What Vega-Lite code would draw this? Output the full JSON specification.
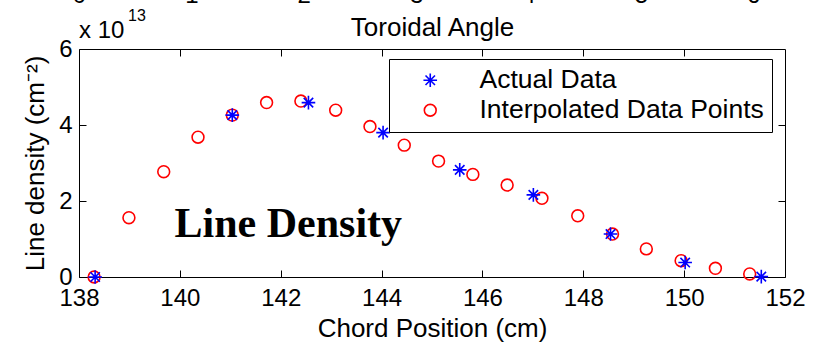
{
  "$schema": "https://vega.github.io/schema/vega-lite/v6.json",
  "autosize": {"type": "none"},
  "width": 706,
  "height": 228,
  "padding": {"left": 79, "top": 49, "right": 33, "bottom": 65},
  "background": "white",
  "data": {
    "values": [
      {"pos": 138.30, "density": 0.00, "series": "Interpolated Data Points"},
      {"pos": 138.99, "density": 1.56, "series": "Interpolated Data Points"},
      {"pos": 139.68, "density": 2.77, "series": "Interpolated Data Points"},
      {"pos": 140.36, "density": 3.68, "series": "Interpolated Data Points"},
      {"pos": 141.04, "density": 4.26, "series": "Interpolated Data Points"},
      {"pos": 141.72, "density": 4.59, "series": "Interpolated Data Points"},
      {"pos": 142.40, "density": 4.63, "series": "Interpolated Data Points"},
      {"pos": 143.09, "density": 4.39, "series": "Interpolated Data Points"},
      {"pos": 143.77, "density": 3.96, "series": "Interpolated Data Points"},
      {"pos": 144.45, "density": 3.47, "series": "Interpolated Data Points"},
      {"pos": 145.13, "density": 3.05, "series": "Interpolated Data Points"},
      {"pos": 145.81, "density": 2.70, "series": "Interpolated Data Points"},
      {"pos": 146.49, "density": 2.42, "series": "Interpolated Data Points"},
      {"pos": 147.18, "density": 2.07, "series": "Interpolated Data Points"},
      {"pos": 147.89, "density": 1.61, "series": "Interpolated Data Points"},
      {"pos": 148.58, "density": 1.13, "series": "Interpolated Data Points"},
      {"pos": 149.25, "density": 0.74, "series": "Interpolated Data Points"},
      {"pos": 149.94, "density": 0.43, "series": "Interpolated Data Points"},
      {"pos": 150.62, "density": 0.23, "series": "Interpolated Data Points"},
      {"pos": 151.30, "density": 0.08, "series": "Interpolated Data Points"},
      {"pos": 138.32, "density": 0.00, "series": "Actual Data"},
      {"pos": 141.04, "density": 4.26, "series": "Actual Data"},
      {"pos": 142.55, "density": 4.59, "series": "Actual Data"},
      {"pos": 144.03, "density": 3.80, "series": "Actual Data"},
      {"pos": 145.55, "density": 2.82, "series": "Actual Data"},
      {"pos": 147.01, "density": 2.16, "series": "Actual Data"},
      {"pos": 148.54, "density": 1.13, "series": "Actual Data"},
      {"pos": 150.02, "density": 0.38, "series": "Actual Data"},
      {"pos": 151.53, "density": 0.01, "series": "Actual Data"}
    ]
  },
  "layer": [
    {
      "layer": [
        {
          "mark": {"type": "point", "filled": false, "strokeWidth": 1.6, "size": 140, "opacity": 1},
          "encoding": {
            "x": {
              "field": "pos", "type": "quantitative",
              "scale": {"domain": [138, 152], "nice": false, "zero": false},
              "axis": {
                "orient": "bottom", "values": [138, 140, 142, 144, 146, 148, 150, 152],
                "title": "Chord Position (cm)", "tickSize": -7, "labelPadding": 16,
                "titlePadding": 5, "labelFlush": false, "domain": false
              }
            },
            "y": {
              "field": "density", "type": "quantitative",
              "scale": {"domain": [0, 6], "nice": false, "zero": false},
              "axis": {
                "orient": "left", "values": [0, 2, 4, 6],
                "title": "Line density (cm⁻²)", "tickSize": -7, "labelPadding": 14,
                "titlePadding": 10, "labelFlush": false, "domain": false
              }
            },
            "color": {
              "field": "series", "type": "nominal",
              "scale": {"domain": ["Actual Data", "Interpolated Data Points"], "range": ["#0000ff", "#ff0000"]},
              "legend": {"title": null}
            },
            "shape": {
              "field": "series", "type": "nominal",
              "scale": {
                "domain": ["Actual Data", "Interpolated Data Points"],
                "range": ["M-1.15,0H1.15M0,-1.15V1.15M-0.8,-0.8L0.8,0.8M-0.8,0.8L0.8,-0.8", "circle"]
              },
              "legend": {"title": null}
            }
          }
        },
        {
          "data": {"values": [{"note": "Line Density"}]},
          "mark": {"type": "text", "font": "Liberation Serif", "fontWeight": "bold", "fontSize": 42, "align": "center", "baseline": "alphabetic", "color": "black"},
          "encoding": {
            "x": {"datum": 142.15},
            "y": {"datum": 1.05},
            "text": {"field": "note"}
          }
        },
        {
          "data": {"values": [{"note": "x 10"}]},
          "mark": {"type": "text", "font": "Liberation Sans", "fontSize": 24, "align": "left", "baseline": "alphabetic", "dy": -11, "color": "black"},
          "encoding": {
            "x": {"datum": 138},
            "y": {"datum": 6},
            "text": {"field": "note"}
          }
        },
        {
          "data": {"values": [{"note": "13"}]},
          "mark": {"type": "text", "font": "Liberation Sans", "fontSize": 16, "align": "left", "baseline": "alphabetic", "dx": 49, "dy": -28, "color": "black"},
          "encoding": {
            "x": {"datum": 138},
            "y": {"datum": 6},
            "text": {"field": "note"}
          }
        }
      ]
    },
    {
      "mark": {"type": "point", "opacity": 0},
      "encoding": {
        "x": {
          "field": "pos", "type": "quantitative",
          "scale": {"domain": [138, 152], "nice": false, "zero": false},
          "axis": {"orient": "top", "values": [140, 142, 144, 146, 148, 150], "labels": false, "domain": false, "tickSize": -7, "title": null}
        },
        "y": {
          "field": "density", "type": "quantitative",
          "scale": {"domain": [0, 6], "nice": false, "zero": false},
          "axis": {"orient": "right", "values": [2, 4], "labels": false, "domain": false, "tickSize": -7, "title": null}
        }
      }
    },
    {
      "data": {"values": [{"angle": 0}, {"angle": 1}, {"angle": 2}, {"angle": 3}, {"angle": 4}, {"angle": 5}, {"angle": 6}]},
      "mark": {"type": "point", "opacity": 0},
      "encoding": {
        "x": {
          "field": "angle", "type": "quantitative",
          "scale": {"domain": [0, 6.2832], "nice": false, "zero": false},
          "axis": {
            "orient": "top", "values": [0, 1, 2, 3, 4, 5, 6], "ticks": false, "domain": false,
            "labelPadding": 42, "labelFlush": false, "labelOverlap": false,
            "title": "Toroidal Angle", "titleX": 353, "titleY": -14,
            "titleAlign": "center", "titleBaseline": "alphabetic"
          }
        }
      }
    }
  ],
  "resolve": {"scale": {"x": "independent", "y": "independent"}},
  "config": {
    "view": {"stroke": "black", "strokeWidth": 1},
    "axis": {
      "grid": false,
      "labelFont": "Liberation Sans", "labelFontSize": 24, "labelColor": "black",
      "titleFont": "Liberation Sans", "titleFontSize": 26, "titleFontWeight": "normal", "titleColor": "black",
      "tickColor": "black", "tickWidth": 1, "domainColor": "black"
    },
    "legend": {
      "orient": "none", "legendX": 310, "legendY": 10,
      "strokeColor": "black", "fillColor": "white", "padding": 8,
      "labelFont": "Liberation Sans", "labelFontSize": 26.5, "labelColor": "black",
      "labelLimit": 400, "labelOffset": 36, "symbolOffset": 20, "rowPadding": 3,
      "symbolSize": 140, "symbolStrokeWidth": 1.6
    }
  }
}
